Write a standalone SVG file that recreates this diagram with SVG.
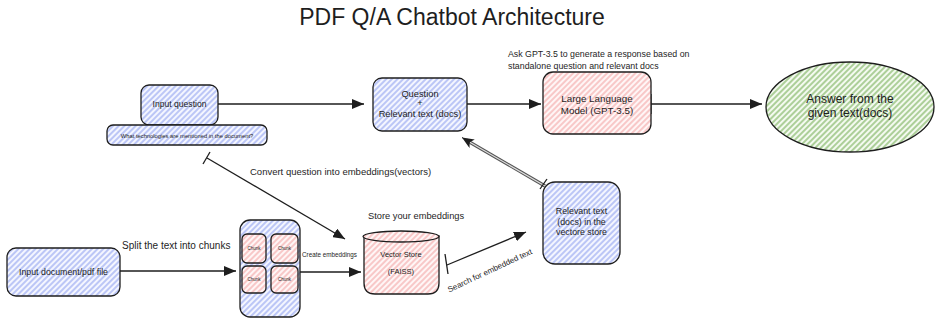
<svg xmlns="http://www.w3.org/2000/svg" width="939" height="322" viewBox="0 0 939 322">
<style>
  text { font-family: "Liberation Sans", "DejaVu Sans", sans-serif; fill: #1e1e1e; }
  .box { stroke: #1e1e1e; stroke-width: 1.3; }
  .blue { fill: url(#hb); }
  .red { fill: url(#hr); }
  .green { fill: url(#hg); }
  .conn { stroke: #1e1e1e; stroke-width: 1.3; fill: none; }
  .tick { stroke: #1e1e1e; stroke-width: 1.3; }
  .c { text-anchor: middle; }
</style>
<defs>
  <pattern id="hb" patternUnits="userSpaceOnUse" width="4" height="4" patternTransform="rotate(45)">
    <rect width="4" height="4" fill="#f4f6ff"/>
    <line x1="1" y1="0" x2="1" y2="4" stroke="#8d9ff0" stroke-width="1.1"/>
  </pattern>
  <pattern id="hr" patternUnits="userSpaceOnUse" width="4" height="4" patternTransform="rotate(45)">
    <rect width="4" height="4" fill="#fff6f6"/>
    <line x1="1" y1="0" x2="1" y2="4" stroke="#f3a3a3" stroke-width="1.1"/>
  </pattern>
  <pattern id="hg" patternUnits="userSpaceOnUse" width="4" height="4" patternTransform="rotate(45)">
    <rect width="4" height="4" fill="#f4faf0"/>
    <line x1="1" y1="0" x2="1" y2="4" stroke="#86b86a" stroke-width="1.3"/>
  </pattern>
  <marker id="ah" markerUnits="userSpaceOnUse" viewBox="0 0 12 10" refX="12" refY="5" markerWidth="12" markerHeight="10" orient="auto">
    <path d="M0,0 L12,5 L0,10 Z" fill="#1e1e1e"/>
  </marker>
  <marker id="ahg" markerUnits="userSpaceOnUse" viewBox="0 0 12 10" refX="12" refY="5" markerWidth="12" markerHeight="10" orient="auto">
    <path d="M0,0 L12,5 L0,10 L3,5 Z" fill="#1e1e1e"/>
  </marker>
</defs>

<text x="452" y="25" class="c" font-size="23">PDF Q/A Chatbot Architecture</text>

<g id="connectors">
  <line class="conn" x1="218" y1="104" x2="364" y2="104" marker-end="url(#ah)"/>
  <line class="conn" x1="467" y1="104" x2="541" y2="104" marker-end="url(#ah)"/>
  <line class="conn" x1="651" y1="104" x2="762" y2="104" marker-end="url(#ah)"/>
  <line class="tick" x1="651" y1="94" x2="651" y2="114" stroke-width="2"/>
  <line class="conn" x1="120" y1="271" x2="236" y2="271" marker-end="url(#ah)"/>
  <line class="conn" x1="300" y1="272" x2="361" y2="272" marker-end="url(#ah)"/>
  <line class="conn" x1="207" y1="158" x2="345" y2="239" marker-end="url(#ah)"/>
  <line class="tick" x1="203" y1="164" x2="210" y2="152"/>
  <line class="conn" x1="447" y1="265" x2="526" y2="232" marker-end="url(#ah)"/>
  <line class="tick" x1="445" y1="254" x2="448" y2="274"/>
  <line x1="545" y1="186" x2="466" y2="140" stroke="#555" stroke-width="3.2"/>
  <line x1="545" y1="186" x2="466" y2="140" stroke="#ddd" stroke-width="1.2"/>
  <line x1="470" y1="142.5" x2="462" y2="137.5" stroke="#1e1e1e" stroke-width="1" marker-end="url(#ahg)"/>
  <line class="tick" x1="540" y1="189" x2="547" y2="179"/>
  <text x="250" y="175" font-size="9.5">Convert question into embeddings(vectors)</text>
  <text x="122" y="249" font-size="10">Split the text into chunks</text>
  <text x="302" y="257" font-size="6.3">Create embeddings</text>
  <text x="368" y="219" font-size="9.3">Store your embeddings</text>
  <text x="491" y="273" class="c" font-size="8" transform="rotate(-25 491 273)">Search for embedded text</text>
  <text x="508" y="57" font-size="8.8">Ask GPT-3.5 to generate a response based on</text>
  <text x="508" y="69" font-size="8.8">standalone question and relevant docs</text>
</g>

<g id="input-question">
  <rect class="box blue" x="141" y="85" width="77" height="40" rx="8"/>
  <text x="179.5" y="107" class="c" font-size="8.6">Input question</text>
</g>

<g id="sample-question">
  <rect class="box blue" x="107" y="125" width="160" height="20" rx="6"/>
  <text x="187" y="137.5" class="c" font-size="5.8">What technologies are mentioned in the document?</text>
</g>

<g id="question-relevant">
  <rect class="box blue" x="373" y="78" width="94" height="53" rx="9"/>
  <text x="420" y="97" class="c" font-size="9.3">Question</text>
  <text x="420" y="106" class="c" font-size="9.3">+</text>
  <text x="420" y="117" class="c" font-size="9.3">Relevant text (docs)</text>
</g>

<g id="llm">
  <rect class="box red" x="543" y="72" width="108" height="62" rx="10"/>
  <text x="597" y="102" class="c" font-size="9.8">Large Language</text>
  <text x="597" y="114" class="c" font-size="9.8">Model (GPT-3.5)</text>
</g>

<g id="answer">
  <ellipse class="box green" cx="850" cy="107" rx="84" ry="45"/>
  <text x="850" y="103" class="c" font-size="12">Answer from the</text>
  <text x="850" y="117" class="c" font-size="12">given text(docs)</text>
</g>

<g id="relevant-text">
  <rect class="box blue" x="543" y="182" width="77" height="82" rx="12"/>
  <text x="581.5" y="214" class="c" font-size="8.8">Relevant text</text>
  <text x="581.5" y="224.5" class="c" font-size="8.8">(docs) in the</text>
  <text x="581.5" y="235" class="c" font-size="8.8">vectore store</text>
</g>

<g id="input-document">
  <rect class="box blue" x="7" y="248" width="113" height="48" rx="9"/>
  <text x="63.5" y="275" class="c" font-size="8.8">Input document/pdf file</text>
</g>

<g id="chunks">
  <rect class="box blue" x="240" y="220" width="60" height="97" rx="10"/>
  <rect class="box red" x="242" y="234" width="24" height="29" rx="5"/>
  <rect class="box red" x="271" y="234" width="27" height="29" rx="5"/>
  <rect class="box red" x="242" y="266" width="24" height="27" rx="5"/>
  <rect class="box red" x="271" y="266" width="27" height="27" rx="5"/>
  <text x="254" y="250" class="c" font-size="4.5">Chunk</text>
  <text x="284.5" y="250" class="c" font-size="4.5">Chunk</text>
  <text x="254" y="281" class="c" font-size="4.5">Chunk</text>
  <text x="284.5" y="281" class="c" font-size="4.5">Chunk</text>
</g>

<g id="vector-store">
  <path class="box red" d="M364,236 L364,283 Q364,294 375,294 L428,294 Q439,294 439,283 L439,236 Z"/>
  <ellipse class="box red" cx="401" cy="236.5" rx="38" ry="5.5"/>
  <text x="401" y="257" class="c" font-size="7.5">Vector Store</text>
  <text x="401" y="274" class="c" font-size="7.5">(FAISS)</text>
</g>
</svg>
